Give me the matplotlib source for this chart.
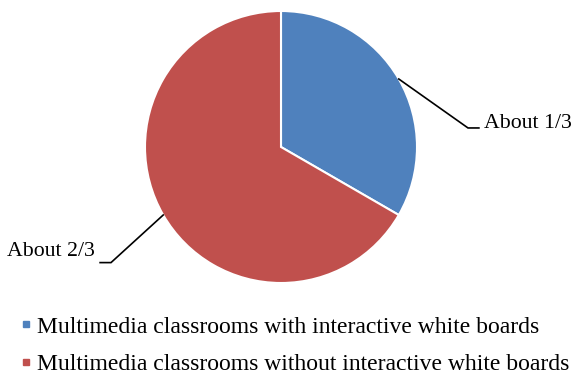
import matplotlib
matplotlib.use("Agg")
import numpy as np
from matplotlib import pyplot as plt
from matplotlib.lines import Line2D

# Pie data
labels = ["Multimedia classrooms with interactive white boards",
          "Multimedia classrooms without interactive white boards"]
shares = [1 / 3, 2 / 3]
callouts = ["About 1/3", "About 2/3"]
colors = ["#4F81BD", "#C0504D"]

plt.rcParams['font.family'] = ['Liberation Serif', 'DejaVu Serif']

fig = plt.figure(figsize=(5.74, 3.74), dpi=100)
ax = fig.add_axes([145 / 574, (374 - 283) / 374, 272 / 574, 272 / 374])

wedges, _ = ax.pie(shares, colors=colors, startangle=90, counterclock=False,
                   radius=1.0, wedgeprops=dict(edgecolor='white', linewidth=1.5))
ax.set_xlim(-1, 1)
ax.set_ylim(-1, 1)
ax.set_aspect('equal')
ax.axis('off')

# leader lines: edge point -> elbow -> short horizontal tick -> label
elbows = [(1.375, 0.14), (-1.25, -0.85)]
for w, txt, (ex, ey) in zip(wedges, callouts, elbows):
    mid = np.deg2rad((w.theta1 + w.theta2) / 2)
    px, py = np.cos(mid), np.sin(mid)
    side = 1 if ex > 0 else -1
    hx = ex + side * 0.08
    ax.plot([px, ex, hx], [py, ey, ey], color='black', lw=1.2,
            clip_on=False, solid_joinstyle='miter')
    if side > 0:
        ax.text(hx + 0.04, ey, txt, ha='left', va='baseline',
                fontsize=15.7, clip_on=False)
    else:
        ax.text(hx - 0.04, ey + 0.05, txt, ha='right', va='baseline',
                fontsize=15.7, clip_on=False)

handles = [Line2D([], [], marker='s', linestyle='none', markersize=5,
                  markerfacecolor=c, markeredgecolor=c) for c in colors]
fig.legend(handles, labels, loc='upper left',
           bbox_to_anchor=(20 / 574, 1 - 316 / 374), frameon=False,
           fontsize=17, handlelength=0.55, handletextpad=0.15,
           labelspacing=0.68, borderpad=0, borderaxespad=0)

fig.savefig("out.png", dpi=100)
